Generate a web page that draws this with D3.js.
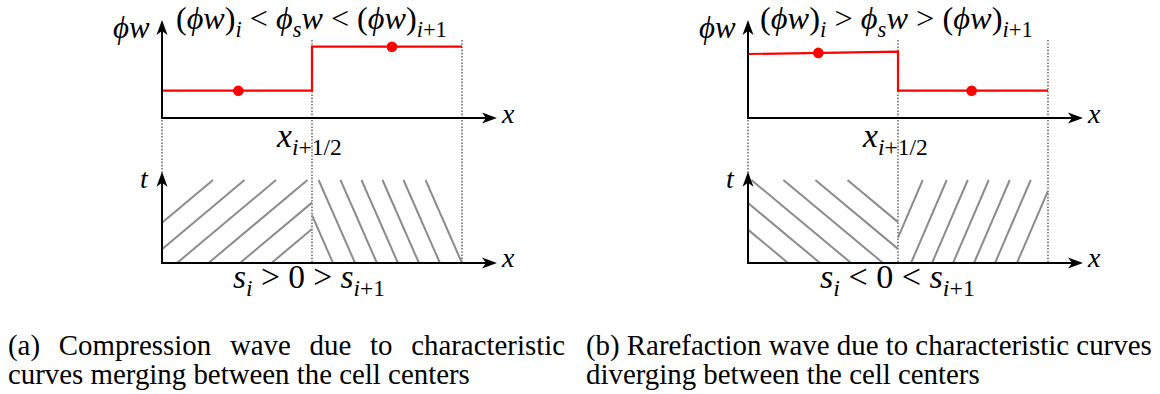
<!DOCTYPE html>
<html>
<head>
<meta charset="utf-8">
<script src="https://cdn.jsdelivr.net/npm/d3@7"></script>
</head>
<body style="margin:0">
<svg id="fig" width="1160" height="394" style="display:block;background:#fff"></svg>
<script>
// Cell edges in units of the cell width: x_{i-1/2}, x_{i+1/2}, x_{i+3/2}
const cellEdges = [0, 1, 2];

// (a) compression: cell-average states [at left edge, at right edge] for cells i and i+1
const compLevels = [[0.273, 0.273], [0.713, 0.713]];
const compCentres = [0.509, 1.533];
// foot points (t = 0) of the characteristic curves in each cell, and their speeds
const compFeetLeft = [-0.32, -0.11, 0.10, 0.31, 0.52, 0.73];
const compFeetRight = [1.14, 1.287, 1.433, 1.573, 1.713, 1.853, 2.0];
const compSpeeds = [0.66, -0.243];

// (b) rarefaction
const rareLevels = [[0.64, 0.663], [0.273, 0.273]];
const rareCentres = [0.469, 1.491];
const rareFeetLeft = [0.267, 0.48, 0.687, 0.90, 1.113, 1.327];
const rareFeetRight = [0.927, 1.087, 1.227, 1.367, 1.507, 1.647, 1.793];
const rareSpeeds = [-0.664, 0.238];

// labels (NBSP keeps the space around relations)
const S = "\u00A0";
const compTitle = [["(", "r"], ["ϕw", "i"], [")", "r"], ["i", "si"], [S + "<" + S, "r"], ["ϕ", "i"], ["s", "si"], ["w", "i"], [S + "<" + S, "r"], ["(", "r"], ["ϕw", "i"], [")", "r"], ["i", "si"], ["+1", "sr"]];
const rareTitle = [["(", "r"], ["ϕw", "i"], [")", "r"], ["i", "si"], [S + ">" + S, "r"], ["ϕ", "i"], ["s", "si"], ["w", "i"], [S + ">" + S, "r"], ["(", "r"], ["ϕw", "i"], [")", "r"], ["i", "si"], ["+1", "sr"]];
const compSpeedLabel = [["s", "i"], ["i", "si"], [S + ">" + S + "0" + S + ">" + S, "r"], ["s", "i"], ["i", "si"], ["+1", "sr"]];
const rareSpeedLabel = [["s", "i"], ["i", "si"], [S + "<" + S + "0" + S + "<" + S, "r"], ["s", "i"], ["i", "si"], ["+1", "sr"]];
const interfaceLabel = [["x", "i"], ["i", "si"], ["+1/2", "sr"]];
const phiLabel = [["ϕw", "i"]];
const captionA = ["(a) Compression wave due to characteristic", "curves merging between the cell centers"];
const captionB = ["(b) Rarefaction wave due to characteristic curves", "diverging between the cell centers"];

const svg = d3.select("#fig");
const FONT = "Liberation Serif, Times New Roman, serif";

function buildMath(g, x, y, parts, size) {
  const t = g.append("text")
    .attr("x", x).attr("y", y)
    .attr("font-family", FONT)
    .style("font-family", FONT)
    .attr("font-size", size)
    .attr("fill", "#000");
  let shift = 0;
  parts.forEach(([s, style]) => {
    const sub = style[0] === "s";
    const want = sub ? size * 0.24 : 0;
    t.append("tspan")
      .attr("dy", want - shift)
      .attr("font-style", style.endsWith("i") ? "italic" : "normal")
      .attr("font-size", sub ? size * 0.7 : size)
      .text(s);
    shift = want;
  });
  return t;
}

// draw a formula, then rescale its font so that it spans the given width
function mathText(g, x, y, parts, width) {
  const probe = buildMath(g, x, y, parts, 28);
  const w = probe.node().getBBox().width;
  probe.remove();
  return buildMath(g, x, y, parts, 28 * width / w);
}

function arrowHead(g, x, y, dir) {
  const L = 15, W = 5.5, N = 4;
  let d;
  if (dir === "up") {
    d = `M${x},${y} L${x - W},${y + L} L${x},${y + L - N} L${x + W},${y + L} Z`;
  } else {
    d = `M${x},${y} L${x - L},${y - W} L${x - L + N},${y} L${x - L},${y + W} Z`;
  }
  g.append("path").attr("d", d).attr("fill", "#000");
}

// clip a characteristic x = foot + speed * t to t in [0,1] and x in [a,b]
function clipChar(foot, speed, a, b) {
  let t0 = 0, t1 = 1;
  if (speed > 0) {
    t0 = Math.max(t0, (a - foot) / speed);
    t1 = Math.min(t1, (b - foot) / speed);
  } else if (speed < 0) {
    t0 = Math.max(t0, (b - foot) / speed);
    t1 = Math.min(t1, (a - foot) / speed);
  }
  if (t1 <= t0) return null;
  return [[foot + speed * t0, t0], [foot + speed * t1, t1]];
}

function panel(cfg) {
  const g = svg.append("g");
  const x = d3.scaleLinear().domain([0, 2]).range(cfg.xRange);
  const yTop = d3.scaleLinear().domain([0, 1]).range([118, 18]);
  const yT = d3.scaleLinear().domain([0, 1]).range([263, 180]);

  // dotted cell edges
  cellEdges.forEach(e => {
    g.append("line")
      .attr("x1", x(e)).attr("x2", x(e))
      .attr("y1", yTop(0.78)).attr("y2", yT(0))
      .attr("stroke", "#555").attr("stroke-width", 1.3)
      .attr("stroke-dasharray", "1.6,1.6");
  });

  // characteristic curves
  const fams = [
    { feet: cfg.feetLeft, speed: cfg.speeds[0], a: 0, b: 1 },
    { feet: cfg.feetRight, speed: cfg.speeds[1], a: 1, b: 2 }
  ];
  fams.forEach(f => {
    f.feet.forEach(ft => {
      const seg = clipChar(ft, f.speed, f.a, f.b);
      if (!seg) return;
      g.append("line")
        .attr("x1", x(seg[0][0])).attr("y1", yT(seg[0][1]))
        .attr("x2", x(seg[1][0])).attr("y2", yT(seg[1][1]))
        .attr("stroke", "#8c8c8c").attr("stroke-width", 2);
    });
  });

  // piecewise-constant reconstruction
  const L = cfg.levels;
  const stepPts = [
    [0, L[0][0]], [1, L[0][1]], [1, L[1][0]], [2, L[1][1]]
  ];
  g.append("path")
    .attr("d", d3.line().x(d => x(d[0])).y(d => yTop(d[1]))(stepPts))
    .attr("fill", "none").attr("stroke", "#ff0000").attr("stroke-width", 2.2);

  cfg.centres.forEach((c, i) => {
    const lv = L[i][0] + (L[i][1] - L[i][0]) * (c - i);
    g.append("circle")
      .attr("cx", x(c)).attr("cy", yTop(lv)).attr("r", 5.3)
      .attr("fill", "#ff0000");
  });

  // axes
  const xEnd = x(2) + 35;
  [yTop(0), yT(0)].forEach(yy => {
    g.append("line").attr("x1", x(0)).attr("x2", xEnd - 6)
      .attr("y1", yy).attr("y2", yy)
      .attr("stroke", "#000").attr("stroke-width", 2);
    arrowHead(g, xEnd, yy, "right");
  });
  g.append("line").attr("x1", x(0)).attr("x2", x(0))
    .attr("y1", yTop(0) + 1).attr("y2", yTop(0.98) + 6)
    .attr("stroke", "#000").attr("stroke-width", 2);
  arrowHead(g, x(0), yTop(0.98), "up");
  g.append("line").attr("x1", x(0)).attr("x2", x(0))
    .attr("y1", yT(0) + 1).attr("y2", yT(1.1) + 6)
    .attr("stroke", "#000").attr("stroke-width", 2);
  arrowHead(g, x(0), yT(1.1), "up");

  // labels
  mathText(g, x(0) - 49, 38, phiLabel, 37);
  mathText(g, cfg.titleX, 29, cfg.title, cfg.titleW);
  mathText(g, xEnd + 5, 123, [["x", "i"]], 14);
  mathText(g, xEnd + 5, 267, [["x", "i"]], 14);
  mathText(g, cfg.ifaceX, 147, interfaceLabel, 66);
  mathText(g, x(0) - 22, 188, [["t", "i"]], 9);
  mathText(g, cfg.speedX, 288, cfg.speedLabel, cfg.speedW);
}

panel({
  xRange: [162, 462], levels: compLevels, centres: compCentres,
  feetLeft: compFeetLeft, feetRight: compFeetRight, speeds: compSpeeds,
  title: compTitle, titleX: 176, titleW: 271, ifaceX: 277,
  speedLabel: compSpeedLabel, speedX: 233, speedW: 152
});
panel({
  xRange: [748, 1048], levels: rareLevels, centres: rareCentres,
  feetLeft: rareFeetLeft, feetRight: rareFeetRight, speeds: rareSpeeds,
  title: rareTitle, titleX: 760, titleW: 273, ifaceX: 863,
  speedLabel: rareSpeedLabel, speedX: 820, speedW: 155
});

// sub-captions: one font size for both, set so the first line of (b) spans its column;
// the first line of (a) is justified to its column with word spacing
const capG = svg.append("g").attr("fill", "#000");
function capLine(x0, y, s, size) {
  return capG.append("text").attr("x", x0).attr("y", y)
    .attr("font-family", FONT).style("font-family", FONT)
    .attr("font-size", size).text(s);
}
const probe = capLine(0, 0, captionB[0], 25);
const capSize = 25 * 566 / probe.node().getComputedTextLength();
probe.remove();

[[captionA, 8], [captionB, 586]].forEach(([lines, x0], k) => {
  lines.forEach((s, i) => {
    const t = capLine(x0, 355 + i * 29, s, capSize);
    if (k === 0 && i === 0) {
      const w = t.node().getComputedTextLength();
      const gaps = s.split(" ").length - 1;
      t.attr("word-spacing", Math.max(0, (557 - w) / gaps));
    }
  });
});
</script>
</body>
</html>
